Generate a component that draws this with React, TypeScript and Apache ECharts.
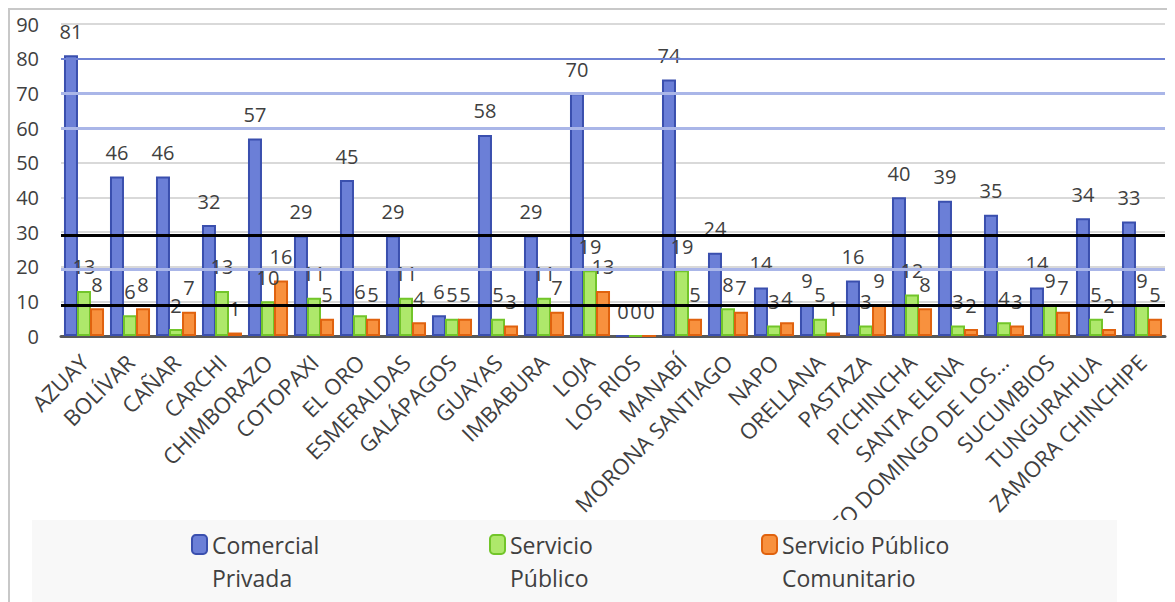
import React, { useEffect, useRef } from "react";
import * as echarts from "echarts";

const categories = [
  "AZUAY", "BOLÍVAR", "CAÑAR", "CARCHI", "CHIMBORAZO", "COTOPAXI", "EL ORO",
  "ESMERALDAS", "GALÁPAGOS", "GUAYAS", "IMBABURA", "LOJA", "LOS RIOS", "MANABÍ",
  "MORONA SANTIAGO", "NAPO", "ORELLANA", "PASTAZA", "PICHINCHA", "SANTA ELENA",
  "SANTO DOMINGO DE LOS...", "SUCUMBIOS", "TUNGURAHUA", "ZAMORA CHINCHIPE",
];
const comercialPrivada = [81, 46, 46, 32, 57, 29, 45, 29, 6, 58, 29, 70, 0, 74, 24, 14, 9, 16, 40, 39, 35, 14, 34, 33];
const servicioPublico = [13, 6, 2, 13, 10, 11, 6, 11, 5, 5, 11, 19, 0, 19, 8, 3, 5, 3, 12, 3, 4, 9, 5, 9];
const servicioPublicoComunitario = [8, 8, 7, 1, 16, 5, 5, 4, 5, 3, 7, 13, 0, 5, 7, 4, 1, 9, 8, 2, 3, 7, 2, 5];
const seriesNames = ["Comercial Privada", "Servicio Público", "Servicio Público Comunitario"];
const legendLabels = ["Comercial\nPrivada", "Servicio\nPúblico", "Servicio Público\nComunitario"];
const yTicks = { min: 0, max: 90, interval: 10 };

const FONT = "'Open Sans', 'Noto Sans', sans-serif";

export default function App() {
  const ref = useRef<HTMLDivElement>(null);
  useEffect(() => {
    document.body.style.overflow = "hidden";
    const chart = echarts.init(ref.current!, null, { renderer: "svg" });
    const label = {
      show: true,
      position: "top" as const,
      distance: 14,
      fontSize: 20,
      color: "#404040",
      fontFamily: FONT,
    };
    const mk = (v: number, color: string, width: number) => ({
      yAxis: v,
      lineStyle: { color, width, type: "solid" as const },
    });
    const legendCommon = {
      orient: "horizontal" as const,
      itemWidth: 15,
      itemHeight: 19,
      z: 20,
      textStyle: {
        fontSize: 23,
        color: "#404040",
        fontFamily: FONT,
        lineHeight: 33,
      },
      formatter: (n: string) => "\n" + legendLabels[seriesNames.indexOf(n)],
    };
    chart.setOption({
      animation: false,
      grid: { left: 51, right: 10, top: 14, bottom: 266, containLabel: false },
      graphic: [
        {
          type: "rect",
          z: 10,
          shape: { x: 22, y: 510, width: 1085, height: 90 },
          style: { fill: "#f8f8f8" },
        },
      ],
      legend: [
        { ...legendCommon, left: 176, top: 480, data: [seriesNames[0]] },
        { ...legendCommon, left: 474, top: 480, data: [seriesNames[1]] },
        { ...legendCommon, left: 746, top: 480, data: [seriesNames[2]] },
      ],
      xAxis: {
        type: "category",
        data: categories,
        axisTick: { show: false },
        axisLine: { lineStyle: { color: "#595959", width: 3 } },
        axisLabel: {
          rotate: 45,
          interval: 0,
          fontSize: 22,
          color: "#404040",
          fontFamily: FONT,
          margin: 22,
        },
      },
      yAxis: {
        type: "value",
        min: yTicks.min,
        max: yTicks.max,
        interval: yTicks.interval,
        axisLine: { show: false },
        axisTick: { show: false },
        axisLabel: { fontSize: 20, color: "#404040", fontFamily: FONT, margin: 22 },
        splitLine: { lineStyle: { color: "#d9d9d9", width: 2 } },
      },
      series: [
        {
          type: "line",
          data: [],
          z: 1,
          silent: true,
          markLine: {
            symbol: "none",
            silent: true,
            label: { show: false },
            data: [
              mk(80, "#6f82d4", 2),
              mk(70, "#aab6e8", 3),
              mk(60, "#aab6e8", 3),
              mk(29, "#000000", 3),
              mk(19.3, "#aab6e8", 3),
              mk(9, "#000000", 3),
            ],
          },
        },
        {
          name: seriesNames[0],
          type: "bar",
          z: 3,
          data: comercialPrivada,
          barWidth: 14,
          barGap: "-7%",
          itemStyle: { color: "#6b7fd7", borderColor: "#3a4fae", borderWidth: 2 },
          label,
        },
        {
          name: seriesNames[1],
          type: "bar",
          z: 3,
          data: servicioPublico,
          barWidth: 14,
          barGap: "-7%",
          itemStyle: { color: "#aee86b", borderColor: "#72c52a", borderWidth: 2 },
          label,
        },
        {
          name: seriesNames[2],
          type: "bar",
          z: 3,
          data: servicioPublicoComunitario,
          barWidth: 14,
          barGap: "-7%",
          itemStyle: { color: "#f8913e", borderColor: "#e0620e", borderWidth: 2 },
          label,
        },
      ],
    });
    return () => chart.dispose();
  }, []);
  return (
    <div
      ref={ref}
      style={{
        width: 1167,
        height: 594,
        borderTop: "2px solid #c8c8c8",
        borderLeft: "2px solid #c8c8c8",
        boxSizing: "border-box",
        background: "#ffffff",
      }}
    />
  );
}
